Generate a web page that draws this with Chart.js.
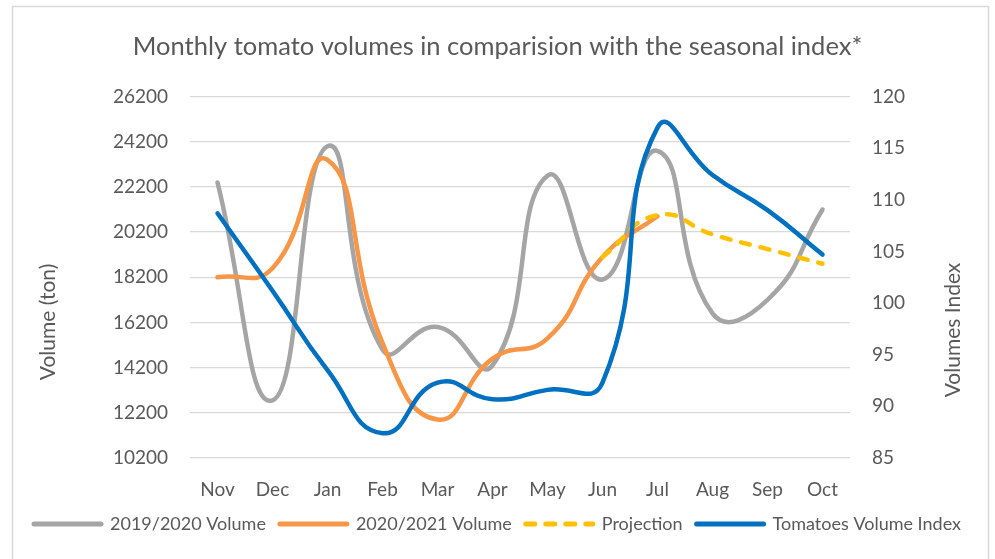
<!DOCTYPE html>
<html>
<head>
<meta charset="utf-8">
<script src="https://cdn.jsdelivr.net/npm/chart.js@4.4.1/dist/chart.umd.min.js"></script>
<style>
  html, body { margin: 0; padding: 0; background: #fff; }
  #wrap { position: relative; width: 995px; height: 559px; }
</style>
</head>
<body>
<div id="wrap"><canvas id="chart" width="995" height="559"></canvas></div>
<script>
// Chart data
const months = ['Nov', 'Dec', 'Jan', 'Feb', 'Mar', 'Apr', 'May', 'Jun', 'Jul', 'Aug', 'Sep', 'Oct'];
const volume1920 = [22400, 12750, 24000, 15000, 16000, 14300, 22700, 18100, 23800, 16600, 17200, 21200];
const volume2021 = [18200, 18600, 23400, 15300, 11900, 14600, 15500, 19100, 20900, null, null, null];
const projection = [null, null, null, null, null, null, null, 19100, 20950, 20100, 19450, 18800];
const volumeIndex = [108.7, 101.2, 93.5, 87.4, 92.3, 90.7, 91.6, 92.3, 117, 112.4, 109.0, 104.7];

// Axis ranges / ticks
const volumeMin = 10200, volumeMax = 26200, volumeStep = 2000;
const indexMin = 85, indexMax = 120, indexStep = 5;

const textGray = '#595959';
const font = 'Lato';

// white background, outer frame and the two axis titles
const decor = {
    id: 'decor',
    beforeDraw(chart) {
        const ctx = chart.ctx;
        ctx.save();
        ctx.fillStyle = '#fff';
        ctx.fillRect(0, 0, chart.width, chart.height);
        ctx.strokeStyle = '#d9d9d9';
        ctx.lineWidth = 1.5;
        ctx.strokeRect(12.5, 6.5, 976, 600);
        ctx.restore();
    },
    afterDraw(chart) {
        const ctx = chart.ctx;
        ctx.save();
        ctx.fillStyle = textGray;
        ctx.font = '21px ' + font;
        ctx.textAlign = 'center';
        ctx.textBaseline = 'middle';
        ctx.translate(48, 322);
        ctx.rotate(-Math.PI / 2);
        ctx.fillText('Volume (ton)', 0, 0);
        ctx.restore();

        ctx.save();
        ctx.fillStyle = textGray;
        ctx.font = '21px ' + font;
        ctx.textAlign = 'center';
        ctx.textBaseline = 'middle';
        ctx.translate(953, 330);
        ctx.rotate(-Math.PI / 2);
        ctx.fillText('Volumes Index', 0, 0);
        ctx.restore();
    }
};

// legend items keep the dataset's dash (point style drops it otherwise)
function legendLabels(chart) {
    const items = Chart.defaults.plugins.legend.labels.generateLabels(chart);
    items.forEach(item => {
        const ds = chart.data.datasets[item.datasetIndex];
        item.lineDash = ds.borderDash || [];
        item.lineCap = 'round';
        item.lineWidth = 5;
    });
    return items;
}

const ctx = document.getElementById('chart').getContext('2d');
new Chart(ctx, {
    type: 'line',
    data: {
        labels: months,
        datasets: [
            {
                label: '2019/2020 Volume',
                data: volume1920,
                borderColor: '#a5a5a5',
                backgroundColor: '#a5a5a5',
                borderWidth: 4.5,
                yAxisID: 'y',
                order: 3
            },
            {
                label: '2020/2021 Volume',
                data: volume2021,
                borderColor: '#f79646',
                backgroundColor: '#f79646',
                borderWidth: 4.5,
                yAxisID: 'y',
                order: 2
            },
            {
                label: 'Projection',
                data: projection,
                borderColor: '#ffc000',
                backgroundColor: '#ffc000',
                borderWidth: 4.5,
                borderDash: [9, 11],
                borderCapStyle: 'round',
                yAxisID: 'y',
                order: 1
            },
            {
                label: 'Tomatoes Volume Index',
                data: volumeIndex,
                borderColor: '#0070c0',
                backgroundColor: '#0070c0',
                borderWidth: 4.5,
                yAxisID: 'y1',
                order: 0
            }
        ]
    },
    options: {
        responsive: false,
        devicePixelRatio: 1,
        animation: false,
        elements: {
            point: { radius: 0, hoverRadius: 0 },
            line: { tension: 0.5, borderCapStyle: 'round', borderJoinStyle: 'round' }
        },
        layout: { padding: { top: 0, left: 0, right: 0, bottom: 16 } },
        plugins: {
            title: {
                display: true,
                text: 'Monthly tomato volumes in comparision with the seasonal index*',
                color: textGray,
                font: { family: font, size: 25.5, weight: 'normal' },
                padding: { top: 31, bottom: 35 }
            },
            legend: {
                position: 'bottom',
                labels: {
                    usePointStyle: true,
                    pointStyle: 'line',
                    pointStyleWidth: 67,
                    boxHeight: 18,
                    padding: 14,
                    color: textGray,
                    font: { family: font, size: 18 },
                    generateLabels: legendLabels,
                    sort: (a, b) => a.datasetIndex - b.datasetIndex
                }
            },
            tooltip: { enabled: false }
        },
        scales: {
            x: {
                offset: true,
                grid: { display: false, drawTicks: false },
                border: { display: false },
                ticks: { color: textGray, font: { family: font, size: 19 }, padding: 20 },
                afterFit(scale) { scale.height = 43; }
            },
            y: {
                position: 'left',
                min: volumeMin,
                max: volumeMax,
                grid: { color: '#d9d9d9', lineWidth: 1.3, drawTicks: false },
                border: { display: false },
                ticks: {
                    stepSize: volumeStep,
                    color: textGray,
                    font: { family: font, size: 19 },
                    padding: 22,
                    callback: v => String(v)
                },
                afterFit(scale) { scale.width = 190; }
            },
            y1: {
                position: 'right',
                min: indexMin,
                max: indexMax,
                grid: { display: false, drawTicks: false },
                border: { display: false },
                ticks: {
                    stepSize: indexStep,
                    color: textGray,
                    font: { family: font, size: 19 },
                    padding: 22
                },
                afterFit(scale) { scale.width = 145; }
            }
        }
    },
    plugins: [decor]
});
</script>
</body>
</html>
